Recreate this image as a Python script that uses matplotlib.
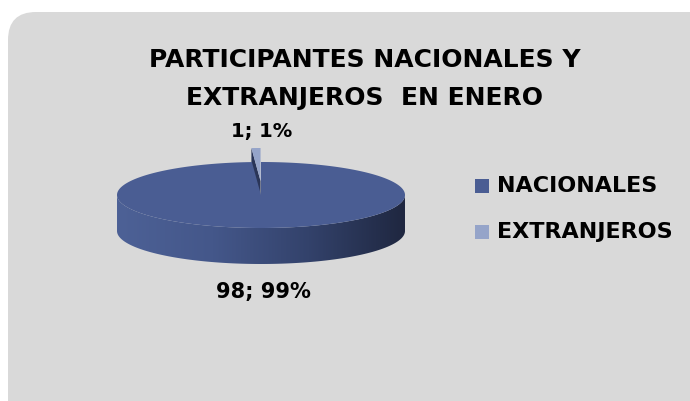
import numpy as np
import matplotlib
matplotlib.use("Agg")
import matplotlib.pyplot as plt
from matplotlib.patches import FancyBboxPatch, Polygon, Rectangle

# data
categories = ["NACIONALES", "EXTRANJEROS"]
values = [98, 1]
colors = ["#4a5d93", "#95a4c9"]
title = "PARTICIPANTES NACIONALES Y\nEXTRANJEROS  EN ENERO"

fig = plt.figure(figsize=(6.9, 4.01), dpi=100)
ax = fig.add_axes([0, 0, 1, 1])
ax.set_xlim(0, 690)
ax.set_ylim(401, 0)
ax.axis("off")

# gray chart area
ax.add_patch(FancyBboxPatch((8, 12), 720, 420, boxstyle="round,pad=0,rounding_size=28",
                            fc="#d9d9d9", ec="none"))

ax.text(365, 79, title, ha="center", va="center", fontsize=18, fontweight="bold",
        linespacing=1.75, family="DejaVu Sans")

# 3d pie geometry
cx, cy, a, b, depth = 261, 195, 144, 33, 36


def pt(theta, dx=0, dy=0):
    t = np.radians(theta)
    return cx + dx + a * np.sin(t), cy + dy - b * np.cos(t)


total = sum(values)
angles = np.cumsum([0] + [v / total * 360 for v in values])

# exploded small slice (drawn first, sits behind)
t0, t1 = angles[1], angles[2]
mid = np.radians((t0 + t1) / 2)
ox, oy = 14 * np.sin(mid), -14 * np.cos(mid)
edge = [(cx + ox, cy + oy), pt(t0, ox, oy), pt(t0, ox, oy + depth), (cx + ox, cy + oy + depth)]
ax.add_patch(Polygon(edge, closed=True, fc="#2a3558", ec="none"))
th = np.linspace(t0, t1, 10)
top2 = [(cx + ox, cy + oy)] + [pt(t, ox, oy) for t in th]
ax.add_patch(Polygon(top2, closed=True, fc=colors[1], ec="none"))

# big slice side with gradient
ths = np.linspace(90, 270, 120)
side = [pt(t) for t in ths] + [pt(t, 0, depth) for t in ths[::-1]]
side_poly = Polygon(side, closed=True, fc="none", ec="none")
ax.add_patch(side_poly)
grad = np.linspace(0, 1, 256).reshape(1, -1)
cmap = matplotlib.colors.LinearSegmentedColormap.from_list(
    "g", ["#4d6196", "#44578a", "#33426b", "#1f2740"])
im = ax.imshow(grad, cmap=cmap, extent=[cx - a, cx + a, cy + b + depth, cy - 5],
               aspect="auto", zorder=1)
im.set_clip_path(side_poly)
ax.set_xlim(0, 690)
ax.set_ylim(401, 0)

# big slice top
th = np.linspace(angles[0], angles[1], 300)
top1 = [(cx, cy)] + [pt(t) for t in th]
ax.add_patch(Polygon(top1, closed=True, fc=colors[0], ec="none", zorder=2))

# data labels
ax.text(262, 131, "%d; %d%%" % (values[1], round(values[1] / total * 100)),
        ha="center", va="center", fontsize=14, fontweight="bold")
ax.text(263, 292, "%d; %d%%" % (values[0], round(values[0] / total * 100)),
        ha="center", va="center", fontsize=15, fontweight="bold")

# legend
for i, (lab, col) in enumerate(zip(categories, colors)):
    y = 186 + i * 46
    ax.add_patch(Rectangle((475, y - 7), 14, 14, fc=col, ec="none"))
    ax.text(497, y, lab, ha="left", va="center", fontsize=16, fontweight="bold")

fig.savefig("out.png", dpi=100)
